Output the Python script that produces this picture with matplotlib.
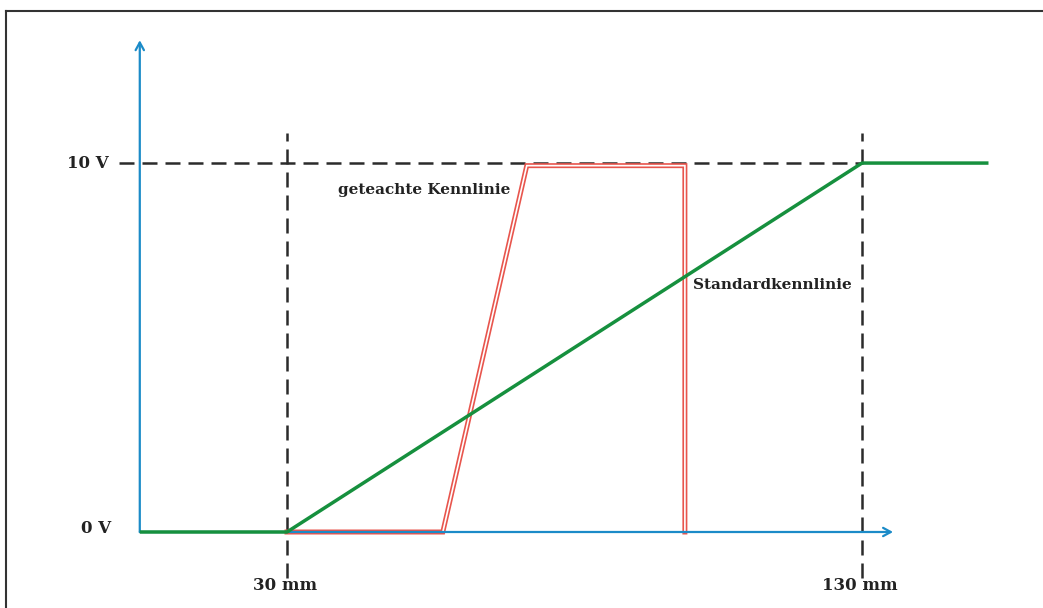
import matplotlib.pyplot as plt
from matplotlib.lines import Line2D

# Kennlinien (x in mm, y in V)
std_x = [4.4, 30, 130, 152]
std_y = [0, 0, 10, 10]
teach_x = [30, 57.1, 71.7, 99.2, 99.2]
teach_y = [0, 0, 9.93, 9.93, 0]

# Markierungen
mark_x = [30, 130]
mark_x_labels = ['30 mm', '130 mm']
mark_y = [0, 10]
mark_y_labels = ['0 V', '10 V']

x_axis = (4.4, 135.4)
y_axis = (0, 13.33)

blue = '#1b8bc8'
green = '#16903e'
red = '#e8554d'
dark = '#2b2b2b'

plt.rcParams['font.family'] = ['DejaVu Serif']

fig = plt.figure(figsize=(10.43, 6.08), dpi=100)
ax = fig.add_axes([0, 0, 1, 1])
ax.set_xlim(-19.91, 161.48)
ax.set_ylim(-2.06, 14.42)
ax.axis('off')

# Rahmen (nur oben und links sichtbar)
fig.add_artist(Line2D([6 / 1043, 1], [1 - 11 / 608, 1 - 11 / 608],
                      transform=fig.transFigure, color='#333333', lw=1.5))
fig.add_artist(Line2D([6 / 1043, 6 / 1043], [0, 1 - 11 / 608],
                      transform=fig.transFigure, color='#333333', lw=1.5))

# gestrichelte Hilfslinien
dash = (0, (6, 3.2))
for xm in mark_x:
    ax.plot([xm, xm], [-1.25, 10.81], color=dark, lw=1.8, linestyle=dash, zorder=1)
ax.plot([0.78, 130], [10, 10], color=dark, lw=1.8, linestyle=dash, zorder=1)

# geteachte Kennlinie als Doppellinie
ax.plot(teach_x, teach_y, color=red, lw=3.6, solid_joinstyle='miter', zorder=2)
ax.plot(teach_x, teach_y, color='white', lw=1.2, solid_joinstyle='miter', zorder=3)

# Achsen mit Pfeilen
arrow = dict(arrowstyle='->,head_length=0.55,head_width=0.3', color=blue, lw=1.6,
             shrinkA=0, shrinkB=0)
ax.annotate('', xy=(x_axis[1], 0), xytext=(x_axis[0], 0), arrowprops=arrow, zorder=4)
ax.annotate('', xy=(x_axis[0], y_axis[1]), xytext=(x_axis[0], y_axis[0]), arrowprops=arrow, zorder=4)

# Standardkennlinie
ax.plot(std_x, std_y, color=green, lw=2.5, solid_capstyle='butt', zorder=5)

# Beschriftungen
for xm, lab in zip(mark_x, mark_x_labels):
    ax.text(xm - 0.3, -1.46, lab, ha='center', va='center', fontsize=12, fontweight='bold', color='#222222')
ax.text(-0.5, 0.1, mark_y_labels[0], ha='right', va='center', fontsize=12, fontweight='bold', color='#222222')
ax.text(-1.1, 10, mark_y_labels[1], ha='right', va='center', fontsize=12, fontweight='bold', color='#222222')

ax.text(68.8, 9.27, 'geteachte Kennlinie', ha='right', va='center', fontsize=11, fontweight='bold', color='#222222')
ax.text(100.6, 6.69, 'Standardkennlinie', ha='left', va='center', fontsize=11, fontweight='bold', color='#222222')

fig.savefig('out.png', dpi=100)
